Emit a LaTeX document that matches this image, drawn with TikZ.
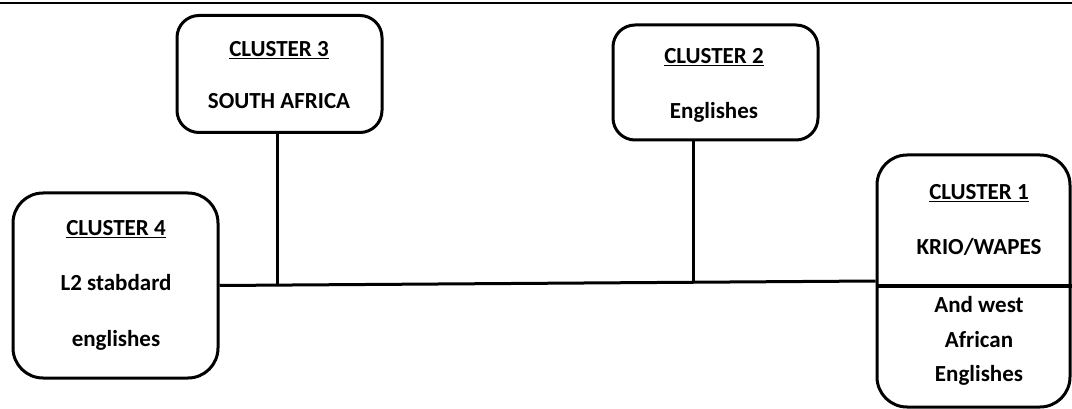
\documentclass[tikz,border=0pt]{standalone}
\usepackage{fontspec}
\setmainfont{Carlito}
\begin{document}
\begin{tikzpicture}[x=1pt,y=-1pt]
\tikzstyle{every node}=[font=\fontsize{23}{27}\selectfont\bfseries, inner sep=0pt]
\tikzstyle{clusterbox}=[draw, line width=3pt, rounded corners=22pt]
	\useasboundingbox (0,0) rectangle (1072,409);
	\draw[line width=2pt] (0,3) to (1072,3);

	% the four boxes
	\node[clusterbox, minimum width=205pt, minimum height=185pt, rounded corners=30pt] (c4) at (115.5,285.5) {};
	\node[clusterbox, minimum width=205pt, minimum height=117pt] (c3) at (279.5,74) {};
	\node[clusterbox, minimum width=205pt, minimum height=115pt] (c2) at (715.5,82.5) {};
	\node[clusterbox, minimum width=193pt, minimum height=252pt, rounded corners=30pt] (c1) at (973.5,281) {};

	\node (t4) at (116,229) {\underline{CLUSTER 4}};
	\node (a4) at (116,283) {L2 stabdard};
	\node (b4) at (116,340) {englishes};
	\node (t3) at (279,50) {\underline{CLUSTER 3}};
	\node (a3) at (279,101) {SOUTH AFRICA};
	\node (t2) at (714,57) {\underline{CLUSTER 2}};
	\node (a2) at (714,112) {Englishes};
	\node (t1) at (979,193) {\underline{CLUSTER 1}};
	\node (a1) at (979,247) {KRIO/WAPES};
	\node (b1) at (979,305) {And west};
	\node (d1) at (979,340) {African};
	\node (e1) at (979,375) {Englishes};

	% connectors
	\coordinate (j3) at ([xshift=-2pt]c3.south);
	\coordinate (j2) at ([xshift=-22pt]c2.south);
	\draw[line width=3pt] (c4.east) to (c1.west);
	\draw[line width=3pt] (j3) to (j3 |- c4.east);
	\draw[line width=3pt] (j2) to (j2 |- c1.west);
	\draw[line width=4pt] (c1.west |- 0,286) to (c1.east |- 0,286);
\end{tikzpicture}
\end{document}
